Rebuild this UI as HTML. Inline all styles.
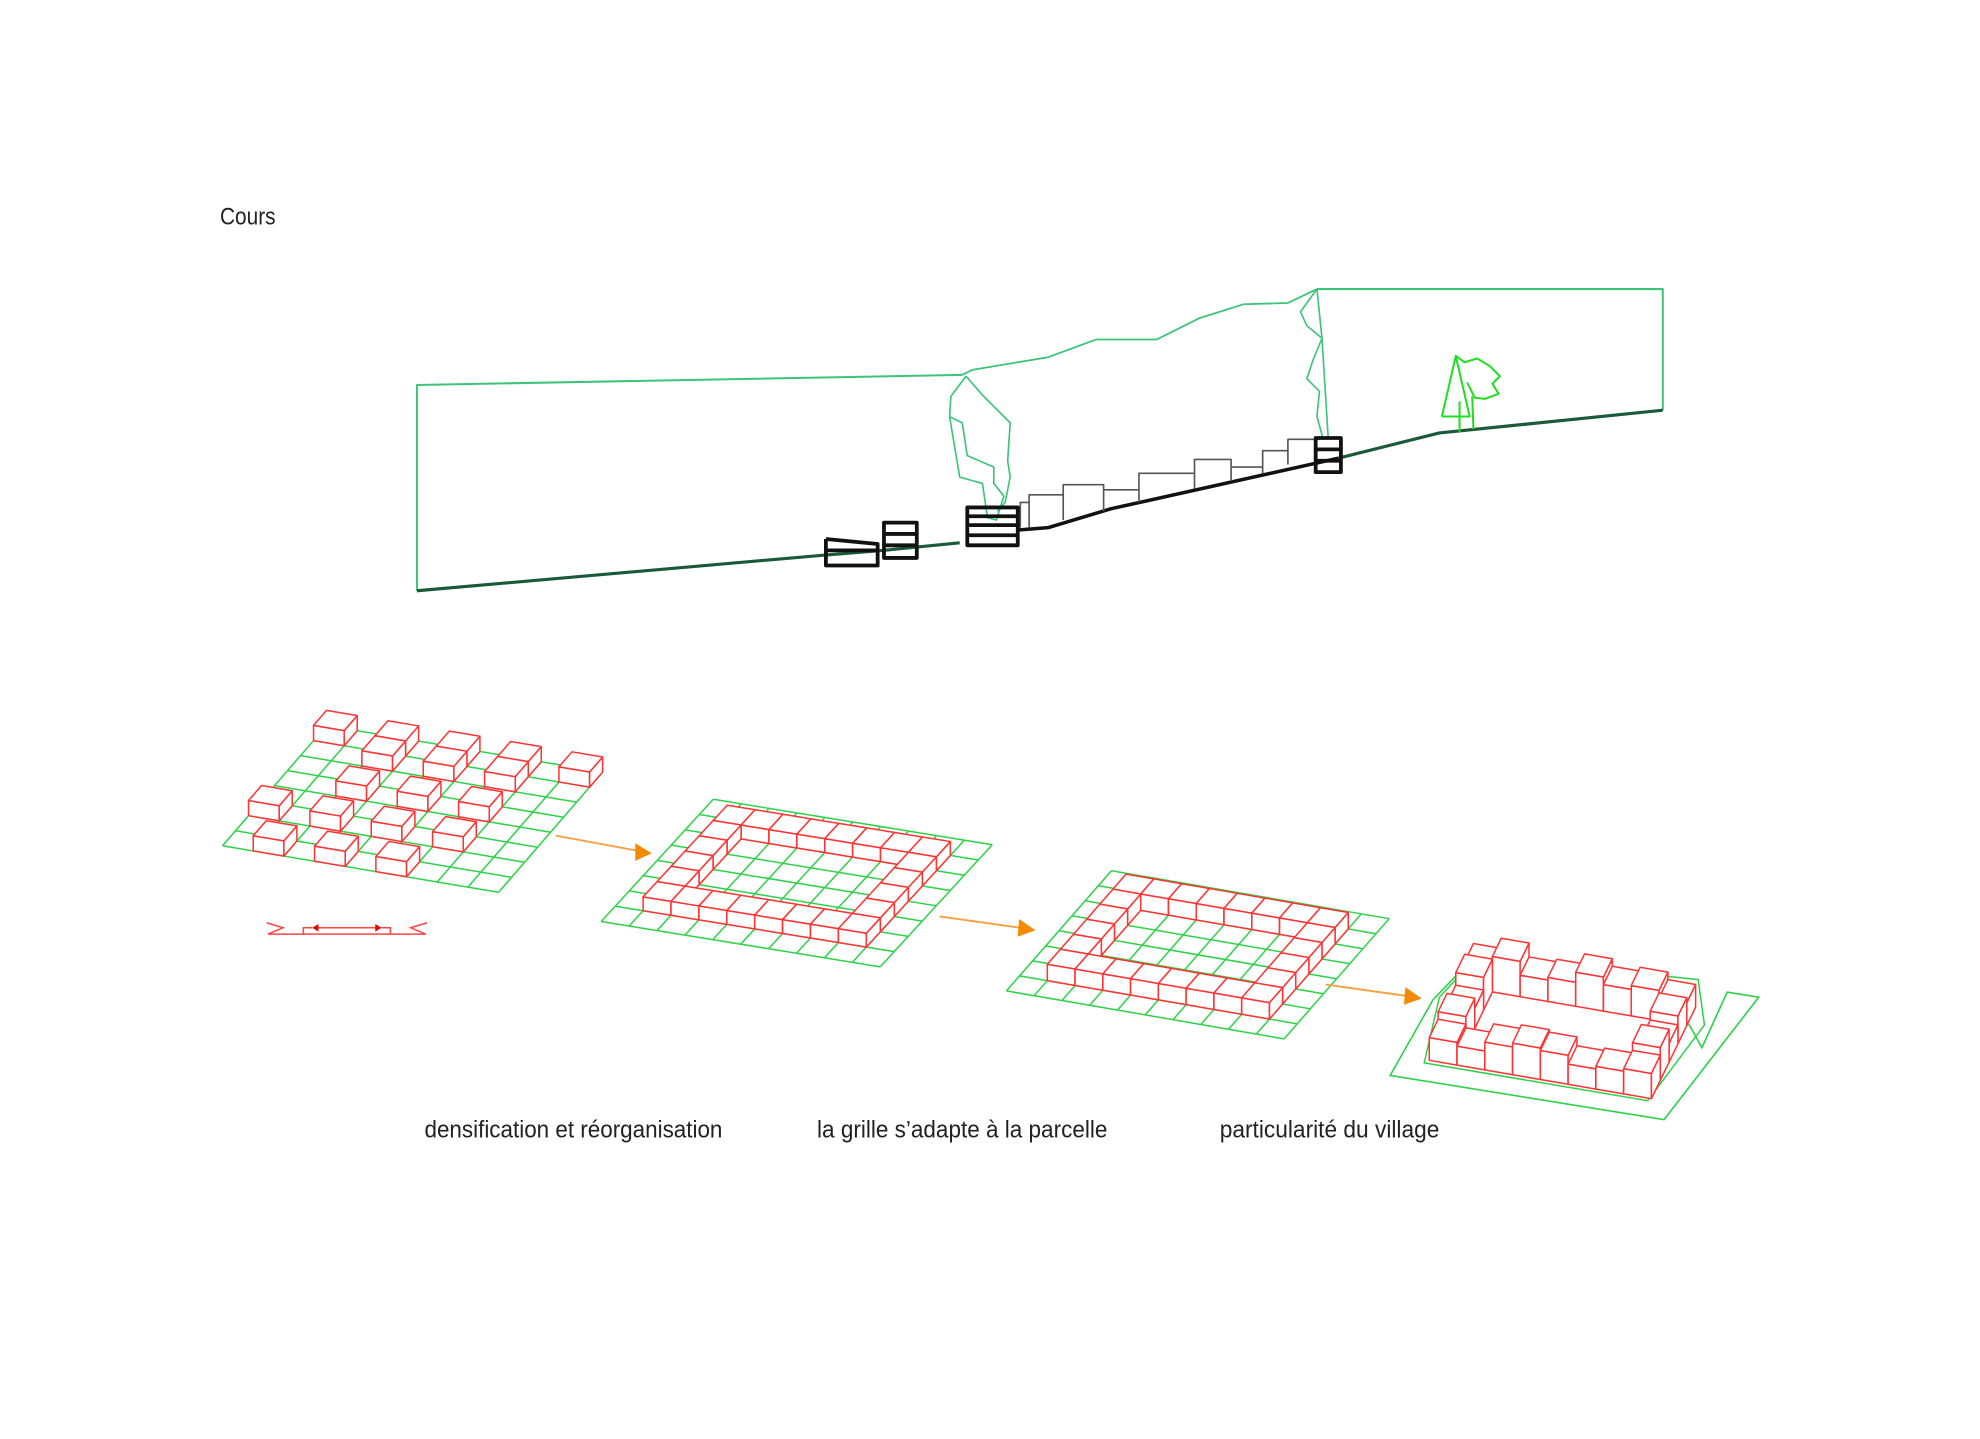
<!DOCTYPE html>
<html><head><meta charset="utf-8"><style>
html,body{margin:0;padding:0;background:#fff;}
svg{display:block;}
text{font-family:"Liberation Sans",sans-serif;fill:#222;}
</style></head><body>
<svg id="s" width="1980" height="1439" viewBox="0 0 1568 1140" xmlns="http://www.w3.org/2000/svg">
<rect width="1568" height="1140" fill="#fff"/>
<text x="174" y="178" font-size="19" textLength="44" lengthAdjust="spacingAndGlyphs">Cours</text>
<text x="336" y="901" font-size="19" textLength="236" lengthAdjust="spacingAndGlyphs">densification et réorganisation</text>
<text x="647" y="901" font-size="19" textLength="230" lengthAdjust="spacingAndGlyphs">la grille s’adapte à la parcelle</text>
<text x="966" y="901" font-size="19" textLength="174" lengthAdjust="spacingAndGlyphs">particularité du village</text>
<g fill="none" stroke-linejoin="round">
<polyline points="330,468 330,305 762,297" stroke="#3cc47a" stroke-width="1.6"/>
<polyline points="1043,229 1317,229 1317,325" stroke="#3cc47a" stroke-width="1.6"/>
<polyline points="762,297 770,293 830,283 868,269 916,269 950,252 985,241 1020,240 1043,229" stroke="#3cc47a" stroke-width="1.4"/>
<polyline points="765,298 753,314 752,330 762,335 766,361 787,370 787,383 795,393 789,412 782,410 778,383 760,378 752,330" stroke="#3cc47a" stroke-width="1.3"/>
<polyline points="765,298 778,313 800,335 798,365 800,378 796,398 790,405" stroke="#3cc47a" stroke-width="1.3"/>
<polyline points="1043,229 1047,268 1052,348" stroke="#3cc47a" stroke-width="1.3"/>
<polyline points="1043,229 1030,247 1035,258 1047,268 1040,285 1035,300 1045,310 1043,330 1048,348" stroke="#3cc47a" stroke-width="1.3"/>
<polyline points="330,468 650,440 700,436 740,432 760,430" stroke="#1a5a3a" stroke-width="2.5"/>
<polyline points="805,420 830,418 880,403 1060,363" stroke="#111" stroke-width="2.8"/>
<polyline points="1060,363 1140,343 1317,325" stroke="#1a5a3a" stroke-width="2.5"/>
<g stroke="#555" stroke-width="1.3">
<polyline points="808,418 808,398 815,398 815,392 842,392 842,384 874,384 874,388 902,388 902,375 946,375 946,364 975,364 975,370 1000,370 1000,357 1020,357 1020,348 1045,348"/>
<line x1="815" y1="398" x2="815" y2="418"/><line x1="842" y1="392" x2="842" y2="412"/><line x1="874" y1="388" x2="874" y2="405"/><line x1="902" y1="388" x2="902" y2="398"/><line x1="946" y1="375" x2="946" y2="387"/><line x1="975" y1="370" x2="975" y2="381"/><line x1="1000" y1="370" x2="1000" y2="375"/><line x1="1020" y1="357" x2="1020" y2="368"/>
</g>
<g stroke="#111" stroke-width="3">
<rect x="654" y="436" width="41" height="12"/><polyline points="654,427 695,431 695,436"/><line x1="654" y1="427" x2="654" y2="436"/>
<rect x="700" y="414" width="26" height="28"/><line x1="700" y1="423" x2="726" y2="423"/><line x1="700" y1="432" x2="726" y2="432"/>
<rect x="766" y="402" width="40" height="30"/><line x1="766" y1="409" x2="806" y2="409"/><line x1="766" y1="416" x2="806" y2="416"/><line x1="766" y1="424" x2="806" y2="424"/>
<rect x="1042" y="347" width="20" height="27"/><line x1="1042" y1="356" x2="1062" y2="356"/><line x1="1042" y1="365" x2="1062" y2="365"/>
</g>
<g stroke="#22dd22" stroke-width="1.6">
<polyline points="1142,330 1153,282 1164,330 1142,330"/>
<polyline points="1153,282 1160,287 1170,284 1180,290 1188,298 1182,304 1187,312 1176,316 1168,315 1162,303"/>
<line x1="1156" y1="318" x2="1156" y2="342"/><line x1="1166" y1="314" x2="1167" y2="340"/>
</g>
</g>
<g id="grids"></g>
<g fill="none" stroke="#f44" stroke-width="1.2">
<polyline points="211,731 224,735 212,740 240,740 240,735 247,735"/>
<polyline points="338,731 325,735 337,740 309,740 309,735 302,735"/>
<line x1="249" y1="735" x2="300" y2="735"/><line x1="240" y1="740" x2="309" y2="740"/>
<path d="M247,735 l5,-3 v6z M302,735 l-5,-3 v6z" fill="#e00" stroke="none"/>
</g>
<g stroke="#f7a040" stroke-width="1.5" fill="#f58a00">
<line x1="440" y1="662" x2="505" y2="674"/><path d="M516,676 L503,668 L503,682Z" stroke="none"/>
<line x1="744" y1="726" x2="808" y2="735"/><path d="M820,737 L807,728 L806,742Z" stroke="none"/>
<line x1="1050" y1="780" x2="1114" y2="789"/><path d="M1126,791 L1113,782 L1112,796Z" stroke="none"/>
</g>
</svg>
<script>
var g=document.getElementById('grids'),out='';
function P(O,U,V,i,j){return [O[0]+U[0]*i+V[0]*j,O[1]+U[1]*i+V[1]*j];}
function poly(pts,st,fill){return '<polygon points="'+pts.map(p=>p[0].toFixed(1)+','+p[1].toFixed(1)).join(' ')+'" fill="'+(fill||'none')+'" stroke="'+st+'" stroke-width="1.2" stroke-linejoin="round"/>';}
function grid(O,U,V,ni,nj,blocks,h,lines){
 if(lines!==false){
 for(var i=0;i<=ni;i++){var a=P(O,U,V,i,0),b=P(O,U,V,i,nj);out+='<line x1="'+a[0]+'" y1="'+a[1]+'" x2="'+b[0]+'" y2="'+b[1]+'" stroke="#2ed24a" stroke-width="1.2"/>';}
 for(var j=0;j<=nj;j++){var a=P(O,U,V,0,j),b=P(O,U,V,ni,j);out+='<line x1="'+a[0]+'" y1="'+a[1]+'" x2="'+b[0]+'" y2="'+b[1]+'" stroke="#2ed24a" stroke-width="1.2"/>';}}
 blocks.sort((x,y)=>y[1]-x[1]||x[0]-y[0]);
 blocks.forEach(function(b){var i=b[0],j=b[1],hh=b[2]||h;
  var p00=P(O,U,V,i,j),p10=P(O,U,V,i+1,j),p11=P(O,U,V,i+1,j+1),p01=P(O,U,V,i,j+1);
  var t=p=>[p[0],p[1]-hh];
  out+=poly([p00,p10,t(p10),t(p00)],'#f33','#fff');
  out+=poly([p10,p11,t(p11),t(p10)],'#f33','#fff');
  out+=poly([t(p00),t(p10),t(p11),t(p01)],'#f33','#fff');});
}
var b1=[],rows={0:[1,3,5],2:[0,2,4,6],4:[2,4,6],6:[2,4,6],7:[0,2,4,6,8]};
for(var k in rows)rows[k].forEach(function(i){b1.push([i,+k]);});
grid([176,670],[24.3,4.1],[10.3,-11.9],9,8,b1,12);
function ring(i0,i1,j0,j1){var r=[];for(var i=i0;i<=i1;i++)for(var j=j0;j<=j1;j++)if(i==i0||i==i1||j==j0||j==j1)r.push([i,j]);return r;}
grid([476,730],[22.1,3.6],[11.1,-12.1],10,8,ring(1,8,1,6),11);
grid([797,785],[22,3.8],[10.4,-11.9],10,8,ring(1,8,1,6),13);
out+='<polygon points="1101,852 1318,887 1393,790 1368,786 1348,830 1338,812 1188,754 1158,768 1135,792" fill="none" stroke="#2ed24a" stroke-width="1.3"/>';
out+='<polygon points="1128,842 1305,872 1350,812 1345,776 1170,758 1140,790" fill="none" stroke="#2ed24a" stroke-width="1.2"/>';
var hs=[18,24,16,26,20,15,28,22,17,25,19,23,27,16,21,18,24,20,26,15,22];
var b4=ring(0,7,0,4).map(function(c,k){return [c[0],c[1],hs[k%hs.length]];});
grid([1132,840],[22,3.8],[7,-14.5],8,5,b4,18,false);
g.innerHTML=out;
</script>
</body></html>
